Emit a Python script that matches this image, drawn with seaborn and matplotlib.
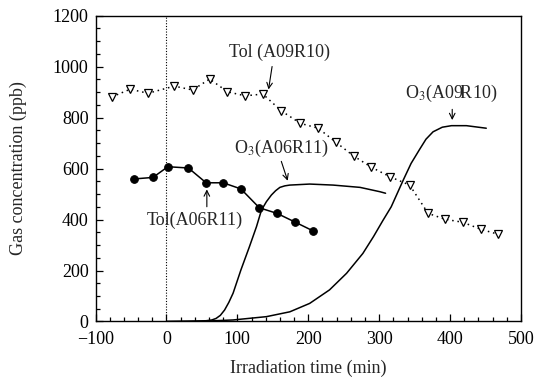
import matplotlib
matplotlib.use("Agg")
import matplotlib.pyplot as plt
from matplotlib.ticker import MultipleLocator
import numpy as np
import pandas as pd
import seaborn as sns

# Toluene, run A09R10 (open triangles, dotted)
tol_a09_t = [-77, -51, -26, 11, 37, 61, 86, 111, 136, 162, 189, 214, 239, 264,
             289, 315, 343, 369, 393, 418, 444, 468]
tol_a09_c = [881, 911, 895, 923, 908, 951, 901, 885, 892, 826, 777, 758, 703, 649,
             605, 568, 535, 424, 401, 389, 361, 342]

# Toluene, run A06R11 (filled circles)
tol_a06_t = [-46, -19, 2, 31, 56, 80, 105, 131, 156, 182, 207]
tol_a06_c = [559, 565, 607, 602, 544, 544, 520, 446, 424, 389, 355]

# Ozone, run A06R11
o3_a06_t = [0, 30, 56, 64, 70, 76, 82, 88, 94, 105, 117, 127, 134, 141, 148,
            154, 160, 167, 174, 202, 235, 273, 301, 309]
o3_a06_c = [0, 1, 3, 6, 12, 24, 45, 75, 111, 202, 293, 372, 437, 470, 496,
            513, 526, 532, 535, 539, 535, 526, 509, 503]

# Ozone, run A09R10
o3_a09_t = [0, 50, 94, 141, 174, 202, 230, 254, 277, 292, 305, 317, 334, 345,
            357, 366, 376, 389, 402, 423, 451]
o3_a09_c = [0, 1, 6, 19, 38, 71, 124, 189, 267, 333, 395, 450, 555, 620,
            675, 715, 744, 762, 768, 768, 758]

x_ticks = [-100, 0, 100, 200, 300, 400, 500]
y_ticks = [0, 200, 400, 600, 800, 1000, 1200]

sns.set_style("ticks")
plt.rcParams["font.family"] = ["Liberation Serif", "DejaVu Serif"]
plt.rcParams["mathtext.fontset"] = "stix"

fig = plt.figure(figsize=(5.47, 3.88), dpi=100)
ax = fig.add_axes([0.1746, 0.1714, 0.7779, 0.7886])

ink = "black"

ax.axvline(0, color=ink, lw=0.8, ls=(0, (1, 1.5)), zorder=1)

sns.lineplot(x=o3_a06_t, y=o3_a06_c, ax=ax, color=ink, lw=1.1,
             estimator=None, sort=False)
sns.lineplot(x=o3_a09_t, y=o3_a09_c, ax=ax, color=ink, lw=1.1,
             estimator=None, sort=False)
sns.lineplot(x=tol_a06_t, y=tol_a06_c, ax=ax, color=ink, lw=1.1,
             marker="o", markersize=5.5, markerfacecolor=ink,
             markeredgecolor=ink, estimator=None, sort=False)
sns.lineplot(x=tol_a09_t, y=tol_a09_c, ax=ax, color=ink, lw=1.1,
             linestyle=(0, (1, 2.5)), marker="v", markersize=5.5,
             markerfacecolor="white", markeredgecolor=ink, markeredgewidth=0.9,
             estimator=None, sort=False)

ax.set_xlim(-100, 500)
ax.set_ylim(0, 1200)
ax.set_xticks(x_ticks)
ax.set_yticks(y_ticks)
ax.set_xticklabels([str(v).replace("-", "\u2212") for v in x_ticks])
ax.xaxis.set_minor_locator(MultipleLocator(20))
ax.yaxis.set_minor_locator(MultipleLocator(50))
ax.tick_params(which="both", direction="in", colors=ink, labelsize=13, width=0.9)
ax.tick_params(which="major", length=5)
ax.tick_params(which="minor", length=3)
ax.tick_params(axis="x", which="major", pad=7)
ax.tick_params(axis="y", which="major", pad=5)
for s in ax.spines.values():
    s.set_linewidth(1.0)
    s.set_color(ink)

ax.set_xlabel("Irradiation time (min)", fontsize=13)
ax.set_ylabel("Gas concentration (ppb)", fontsize=13)
ax.xaxis.set_label_coords(0.5, -0.125)
ax.yaxis.set_label_coords(-0.16, 0.5)

arrow = dict(arrowstyle="->", color=ink, lw=0.8, shrinkA=0, shrinkB=0)
fs = 13

ax.text(160, 1057, "Tol (A09R10)", ha="center", va="center", fontsize=fs)
ax.annotate("", xy=(144, 910), xytext=(149, 1000), arrowprops=arrow)

ax.text(162, 680, "O$_3$(A06R11)", ha="center", va="center", fontsize=fs)
ax.annotate("", xy=(171, 552), xytext=(162, 628), arrowprops=arrow)

ax.text(401, 894, "O$_3$(A09R10)", ha="center", va="center", fontsize=fs)
ax.annotate("", xy=(403, 790), xytext=(403, 832), arrowprops=arrow)

ax.text(40, 398, "Tol(A06R11)", ha="center", va="center", fontsize=fs)
ax.annotate("", xy=(57, 518), xytext=(57, 450), arrowprops=arrow)

fig.savefig("out.png", dpi=100)
